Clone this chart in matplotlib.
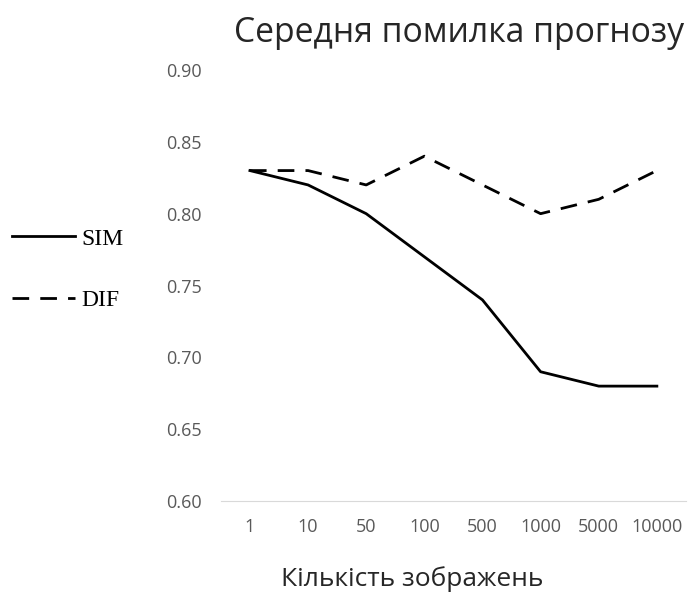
import matplotlib.pyplot as plt
import numpy as np

# кількість зображень та середня помилка для двох методів
categories = ["1", "10", "50", "100", "500", "1000", "5000", "10000"]
sim_err = [0.83, 0.82, 0.80, 0.77, 0.74, 0.69, 0.68, 0.68]
dif_err = [0.83, 0.83, 0.82, 0.84, 0.82, 0.80, 0.81, 0.83]

plt.rcParams['font.family'] = ['Open Sans', 'DejaVu Sans']

fig = plt.figure(figsize=(6.88, 5.93), dpi=100)
ax = fig.add_axes([0.321, 0.155, 0.676, 0.727])

x = np.arange(len(categories))
line_sim, = ax.plot(x, sim_err, color='black', lw=2.0, solid_joinstyle='round')
line_dif, = ax.plot(x, dif_err, color='black', lw=2.0, linestyle=(0, (6, 4)))

ax.set_xlim(-0.5, len(categories) - 0.5)
ax.set_ylim(0.60, 0.90)
yticks = np.arange(0.60, 0.901, 0.05)
ax.set_yticks(yticks)
ax.set_yticklabels([f"{v:.2f}" for v in yticks])
ax.set_xticks(x)
ax.set_xticklabels(categories)

for side in ['top', 'right', 'left']:
    ax.spines[side].set_visible(False)
ax.spines['bottom'].set_color('#d9d9d9')
ax.tick_params(axis='both', length=0, colors='#595959', labelsize=13)
ax.tick_params(axis='x', pad=12)
ax.tick_params(axis='y', pad=14)

fig.text(0.667, 0.929, "Середня помилка прогнозу", ha='center', va='baseline',
         fontsize=24.3, color='#262626')
fig.text(0.599, 0.011, "Кількість зображень", ha='center', va='baseline',
         fontsize=19, color='#262626')

fig.legend([line_sim, line_dif], ["SIM", "DIF"], loc='center left',
           bbox_to_anchor=(0.017, 0.545), frameon=False,
           prop={'family': 'Liberation Serif', 'size': 17},
           handlelength=2.67, labelspacing=1.7, handletextpad=0.3,
           borderpad=0, borderaxespad=0)

fig.savefig("out.png", dpi=100)
